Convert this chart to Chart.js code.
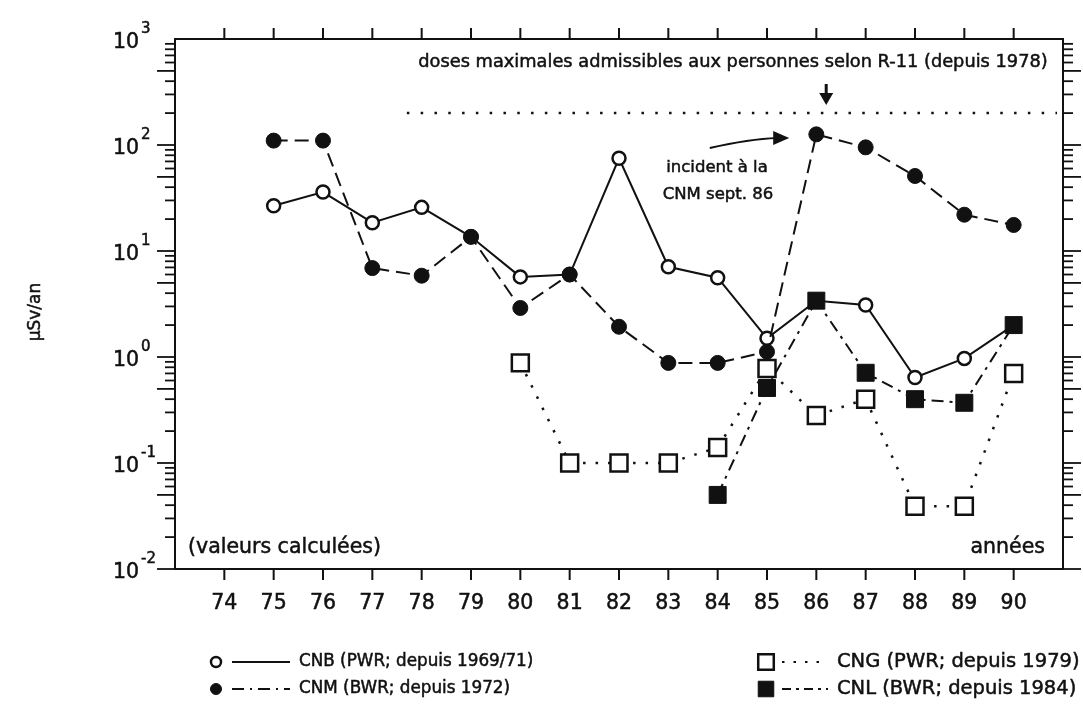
<!DOCTYPE html>
<html>
<head>
<meta charset="utf-8">
<script src="https://cdn.jsdelivr.net/npm/chart.js@4.4.1/dist/chart.umd.min.js"></script>
<style>
  html, body { margin: 0; padding: 0; background: #fff; }
</style>
</head>
<body>
<canvas id="doseChart" width="1083" height="711"></canvas>
<script>
// annual doses (µSv/an) to the public near the Swiss nuclear plants
var cnbYears = [75, 76, 77, 78, 79, 80, 81, 82, 83, 84, 85, 86, 87, 88, 89, 90];
var cnbDose  = [26.7, 36, 18.5, 25.8, 13.6, 5.7, 6, 75, 7.1, 5.6, 1.5, 3.4, 3.1, 0.64, 0.97, 2.0];

var cnmYears = [75, 76, 77, 78, 79, 80, 81, 82, 83, 84, 85, 86, 87, 88, 89, 90];
var cnmDose  = [110, 110, 6.9, 5.85, 13.6, 2.9, 6, 1.93, 0.88, 0.88, 1.12, 126, 95, 51, 22, 17.6];

var cngYears = [80, 81, 82, 83, 84, 85, 86, 87, 88, 89, 90];
var cngDose  = [0.88, 0.1, 0.1, 0.1, 0.14, 0.78, 0.28, 0.40, 0.039, 0.039, 0.70];

var cnlYears = [84, 85, 86, 87, 88, 89, 90];
var cnlDose  = [0.05, 0.51, 3.4, 0.71, 0.40, 0.37, 2.0];

var yearTicks = [74, 75, 76, 77, 78, 79, 80, 81, 82, 83, 84, 85, 86, 87, 88, 89, 90];
var decades = [0.01, 0.1, 1, 10, 100, 1000];
var decadeExp = ['-2', '-1', '0', '1', '2', '3'];

// R-11 limit, in force since 1978
var doseLimit = 200;
var doseLimitFrom = 77.7;

var ink = '#111';
var font = '"DejaVu Sans", sans-serif';

function pairs(xs, ys) {
    return xs.map(function (x, i) { return { x: x, y: ys[i] }; });
}

function line(ctx, x1, y1, x2, y2) {
    ctx.beginPath();
    ctx.moveTo(x1, y1);
    ctx.lineTo(x2, y2);
    ctx.stroke();
}

// slightly heavier text, closer to the old bitmap font
function text(ctx, s, x, y) {
    ctx.fillText(s, x, y);
    ctx.strokeText(s, x, y);
}

var frame = {
    id: 'frame',
    afterDraw: function (chart) {
        var ctx = chart.ctx, a = chart.chartArea;
        var xs = chart.scales.x, ys = chart.scales.y;
        ctx.save();
        ctx.strokeStyle = ink;
        ctx.fillStyle = ink;
        ctx.lineWidth = 2;
        ctx.setLineDash([]);
        ctx.strokeRect(a.left, a.top, a.right - a.left, a.bottom - a.top);

        // year ticks on bottom and top
        yearTicks.forEach(function (yr) {
            var px = xs.getPixelForValue(yr);
            line(ctx, px, a.bottom, px, a.bottom + 11);
            line(ctx, px, a.top, px, a.top - 11);
        });

        // log ticks, left and right
        ctx.lineWidth = 1.8;
        for (var i = 0; i < decades.length - 1; i++) {
            for (var m = 1; m < 10; m++) {
                var py = ys.getPixelForValue(decades[i] * m);
                var len = (m === 1 || m === 5) ? 18 : 10;
                line(ctx, a.left - len, py, a.left, py);
                line(ctx, a.right, py, a.right + len, py);
            }
        }

        ctx.lineWidth = 0.5;
        ctx.font = '20.5px ' + font;
        ctx.textAlign = 'center';
        ctx.textBaseline = 'middle';
        yearTicks.forEach(function (yr) {
            text(ctx, String(yr), xs.getPixelForValue(yr), a.bottom + 35);
        });

        // decade labels 10^n
        decades.forEach(function (d, i) {
            var py = ys.getPixelForValue(d);
            ctx.font = '20.5px ' + font;
            ctx.textAlign = 'right';
            text(ctx, '10', 139, py + 4);
            ctx.font = '15px ' + font;
            ctx.textAlign = 'left';
            text(ctx, decadeExp[i], 141, py - 10);
        });

        // axis title
        ctx.save();
        ctx.translate(36, 312);
        ctx.rotate(-Math.PI / 2);
        ctx.font = '17px ' + font;
        ctx.textAlign = 'center';
        text(ctx, 'µSv/an', 0, 0);
        ctx.restore();

        ctx.font = '20.5px ' + font;
        ctx.textAlign = 'left';
        text(ctx, '(valeurs calculées)', 188, a.bottom - 21);
        ctx.textAlign = 'right';
        text(ctx, 'années', a.right - 18, a.bottom - 21);

        // dose limit line and its caption
        var limY = ys.getPixelForValue(doseLimit);
        ctx.lineWidth = 2.5;
        ctx.setLineDash([2.5, 11.3]);
        line(ctx, xs.getPixelForValue(doseLimitFrom), limY, a.right - 6, limY);
        ctx.setLineDash([]);
        ctx.lineWidth = 0.5;
        ctx.font = '17.8px ' + font;
        ctx.textAlign = 'center';
        text(ctx, 'doses maximales admissibles aux personnes selon R-11 (depuis 1978)', 733, 62);

        var ax = xs.getPixelForValue(86.2);
        ctx.lineWidth = 3;
        line(ctx, ax, 84, ax, 96);
        ctx.beginPath();
        ctx.moveTo(ax - 7, 93);
        ctx.lineTo(ax + 7, 93);
        ctx.lineTo(ax, limY - 8);
        ctx.closePath();
        ctx.fill();

        // incident arrow pointing to the 1986 CNM value
        ctx.lineWidth = 2;
        var sx = xs.getPixelForValue(83.84), sy = 148;
        var tx = xs.getPixelForValue(85.45), ty = 138;
        ctx.beginPath();
        ctx.moveTo(sx, sy);
        ctx.quadraticCurveTo((sx + tx) / 2, sy - 9, tx - 12, ty);
        ctx.stroke();
        ctx.beginPath();
        ctx.moveTo(tx, ty);
        ctx.lineTo(tx - 16, ty - 7);
        ctx.lineTo(tx - 16, ty + 7);
        ctx.closePath();
        ctx.fill();

        ctx.lineWidth = 0.5;
        ctx.font = '16.5px ' + font;
        ctx.textAlign = 'center';
        text(ctx, 'incident à la', 717, 168);
        text(ctx, 'CNM sept. 86', 718, 195);

        // legend, two columns
        var rows = [
            { ds: 0, x: 216, y: 662, size: 16.8 },
            { ds: 2, x: 766, y: 662, size: 19.5 },
            { ds: 1, x: 216, y: 689, size: 16.8 },
            { ds: 3, x: 766, y: 689, size: 19.5 }
        ];
        ctx.textAlign = 'left';
        rows.forEach(function (r) {
            var ds = chart.data.datasets[r.ds];
            var lineEnd = r.x < 500 ? r.x + 74 : r.x + 62;
            ctx.strokeStyle = ink;
            ctx.lineWidth = 2;
            ctx.setLineDash(ds.legendDash);
            line(ctx, r.x + 16, r.y, lineEnd, r.y);
            ctx.setLineDash([]);
            ctx.lineWidth = ds.pointBorderWidth;
            ctx.fillStyle = ds.pointBackgroundColor;
            Chart.helpers.drawPoint(ctx, {
                pointStyle: ds.pointStyle,
                radius: ds.legendRadius,
                rotation: 0,
                borderWidth: ds.pointBorderWidth
            }, r.x, r.y);
            ctx.fillStyle = ink;
            ctx.lineWidth = 0.5;
            ctx.font = r.size + 'px ' + font;
            text(ctx, ds.label, lineEnd + 9, r.y);
        });
        ctx.restore();
    }
};

var ctx = document.getElementById('doseChart').getContext('2d');
var doseChart = new Chart(ctx, {
    type: 'line',
    data: {
        datasets: [{
            label: 'CNB (PWR; depuis 1969/71)',
            data: pairs(cnbYears, cnbDose),
            borderColor: ink,
            borderWidth: 2,
            borderDash: [],
            legendDash: [],
            pointStyle: 'circle',
            pointRadius: 6.5,
            legendRadius: 5,
            pointBorderWidth: 2.5,
            pointBackgroundColor: '#fff',
            pointBorderColor: ink,
            order: 4
        }, {
            label: 'CNM (BWR; depuis 1972)',
            data: pairs(cnmYears, cnmDose),
            borderColor: ink,
            borderWidth: 2,
            borderDash: [14, 7],
            legendDash: [12, 6, 2, 6],
            pointStyle: 'circle',
            pointRadius: 7.5,
            legendRadius: 5.5,
            pointBorderWidth: 1,
            pointBackgroundColor: ink,
            pointBorderColor: ink,
            order: 2
        }, {
            label: 'CNG (PWR; depuis 1979)',
            data: pairs(cngYears, cngDose),
            borderColor: ink,
            borderWidth: 2.5,
            borderDash: [2.5, 10],
            legendDash: [2.5, 9],
            pointStyle: 'rect',
            pointRadius: 12,
            legendRadius: 11,
            pointBorderWidth: 2.5,
            pointBackgroundColor: '#fff',
            pointBorderColor: ink,
            order: 3
        }, {
            label: 'CNL (BWR; depuis 1984)',
            data: pairs(cnlYears, cnlDose),
            borderColor: ink,
            borderWidth: 2,
            borderDash: [12, 6, 3, 6],
            legendDash: [9, 5, 3, 5],
            pointStyle: 'rect',
            pointRadius: 12,
            legendRadius: 11,
            pointBorderWidth: 1,
            pointBackgroundColor: ink,
            pointBorderColor: ink,
            order: 1
        }]
    },
    options: {
        responsive: false,
        animation: false,
        layout: {
            padding: { left: 175, right: 20, top: 39, bottom: 142 }
        },
        scales: {
            x: { type: 'linear', min: 73, max: 91, display: false },
            y: { type: 'logarithmic', min: 0.01, max: 1000, display: false }
        },
        plugins: {
            legend: { display: false },
            tooltip: { enabled: false }
        }
    },
    plugins: [frame]
});
</script>
</body>
</html>
